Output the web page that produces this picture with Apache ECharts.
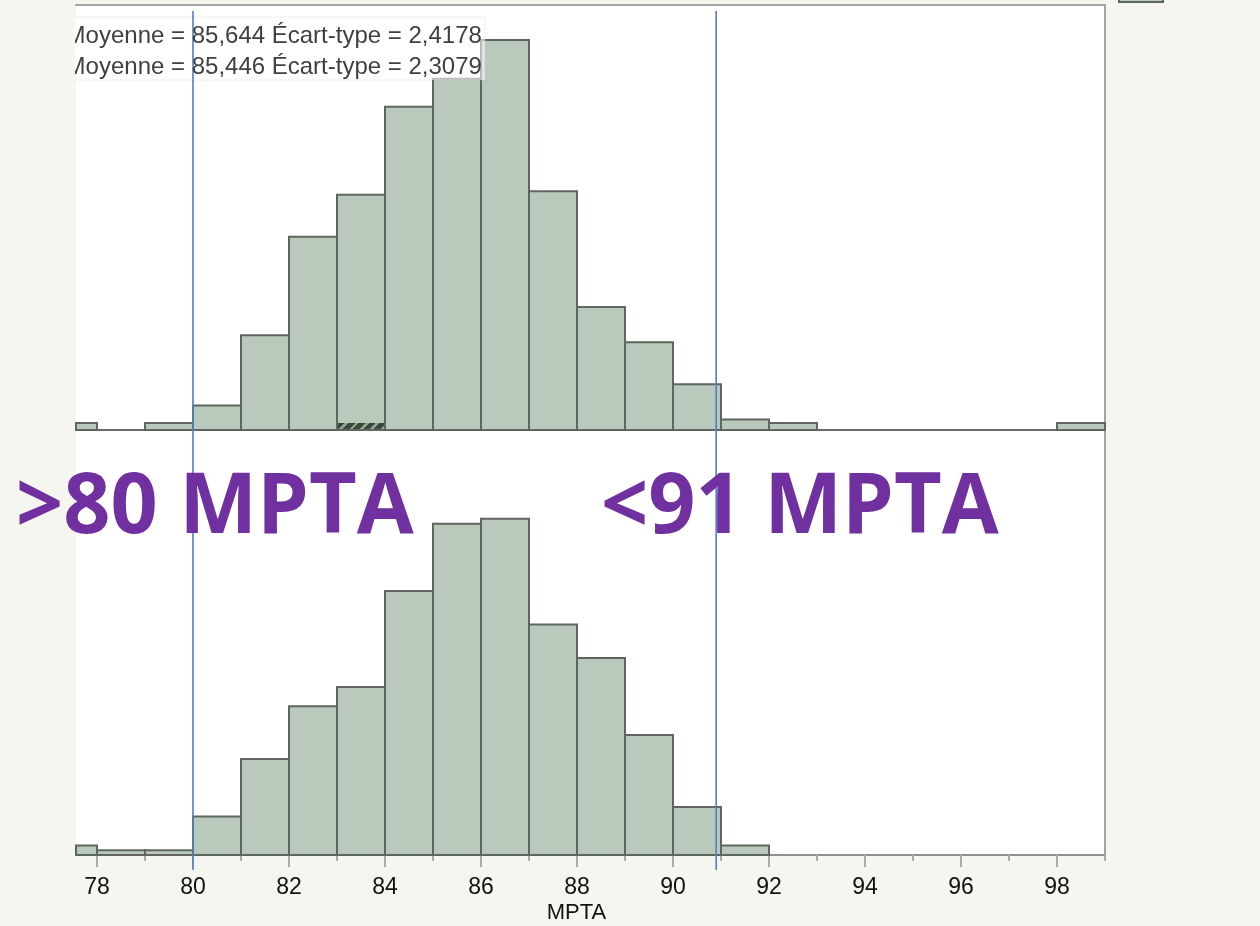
<!DOCTYPE html>
<html>
<head>
<meta charset="utf-8">
<script src="https://cdn.jsdelivr.net/npm/echarts@6/dist/echarts.min.js"></script>
<style>
  html, body { margin: 0; padding: 0; background: #f5f6f0; }
  #main { width: 1260px; height: 926px; }
</style>
</head>
<body>
<div id="main"></div>
<script>
// axis range (MPTA)
var X_MIN = 77.5625, X_MAX = 99;

// histogram bins (1 MPTA wide), lower bounds
var binStarts = [77, 78, 79, 80, 81, 82, 83, 84, 85, 86, 87, 88, 89, 90, 91, 92, 93, 94, 95, 96, 97, 98];
// upper panel counts
var countsTop = [2, 0, 2, 7, 27, 55, 67, 92, 100, 111, 68, 35, 25, 13, 3, 2, 0, 0, 0, 0, 0, 2];
// lower panel counts
var countsBottom = [2, 1, 1, 8, 20, 31, 35, 55, 69, 70, 48, 41, 25, 10, 2, 0, 0, 0, 0, 0, 0, 0];
// selected (hatched) part in the upper panel
var selTop = [[83, 2]];

// spec limits
var limits = [80, 90.9];
var limitLabels = ['>80 MPTA', '<91 MPTA'];

var majorTicks = [78, 80, 82, 84, 86, 88, 90, 92, 94, 96, 98];
var minorTicks = [79, 81, 83, 85, 87, 89, 91, 93, 95, 97, 99];

var statLines = [
  'Moyenne = 85,644 Écart-type = 2,4178',
  'Moyenne = 85,446 Écart-type = 2,3079'
];

var myChart = echarts.init(document.getElementById('main'));

function barItem(params, api) {
  var n = api.value(1);
  if (!n) return null;
  var x0 = Math.max(api.value(0), X_MIN);
  var x1 = Math.min(api.value(0) + 1, X_MAX);
  var p0 = api.coord([x0, n]);
  var p1 = api.coord([x1, 0]);
  return {
    type: 'rect',
    shape: { x: p0[0], y: p0[1], width: p1[0] - p0[0], height: p1[1] - p0[1] },
    style: { fill: '#b9c9bb', stroke: '#5f665e', lineWidth: 2 }
  };
}

function hatchItem(params, api) {
  var p0 = api.coord([api.value(0), api.value(1)]);
  var p1 = api.coord([api.value(0) + 1, 0]);
  var x = p0[0] + 1, y = p0[1], w = p1[0] - p0[0] - 2, h = p1[1] - p0[1] - 1;
  var L = (w + h) / 2, stops = [], k, n = 5;
  for (k = 0; k < n; k++) {
    stops.push({ offset: k / n, color: '#3a483b' });
    stops.push({ offset: (k + 0.65) / n, color: '#3a483b' });
    stops.push({ offset: (k + 0.65) / n, color: '#8fa290' });
    stops.push({ offset: (k + 1) / n, color: '#8fa290' });
  }
  return {
    type: 'rect',
    shape: { x: x, y: y, width: w, height: h },
    style: { fill: new echarts.graphic.LinearGradient(x, y, x + L, y + L, stops, true) }
  };
}

function limitItem(params, api) {
  var a = api.coord([api.value(0), 1]);
  var b = api.coord([api.value(0), 0]);
  return {
    type: 'line',
    shape: { x1: a[0], y1: a[1], x2: b[0], y2: b[1] },
    style: { stroke: '#4f7fc8', lineWidth: 1.6 }
  };
}

var borderAxis = { show: true, onZero: false, lineStyle: { color: '#a4a4a4', width: 2 } };
var font = 'Liberation Sans, Arial, sans-serif';
var bigFont = 'bold 85px "Open Sans", sans-serif';

var option = {
  backgroundColor: '#f5f6f0',
  animation: false,
  grid: [
    { left: 76, width: 1029, top: 5, height: 425, show: true, backgroundColor: '#fff', borderWidth: 0,
      containLabel: false, outerBoundsMode: 'none' },
    { left: 76, width: 1029, top: 430, height: 425, show: true, backgroundColor: '#fff', borderWidth: 0,
      containLabel: false, outerBoundsMode: 'none' },
    { left: 76, width: 1029, top: 11, height: 859, show: false,
      containLabel: false, outerBoundsMode: 'none' }
  ],
  xAxis: [
    { type: 'value', gridIndex: 0, min: X_MIN, max: X_MAX, position: 'bottom',
      axisLine: { show: true, onZero: false, lineStyle: { color: '#6b6b6b', width: 2 } },
      axisTick: { show: false }, axisLabel: { show: false }, splitLine: { show: false } },
    { type: 'value', gridIndex: 0, min: X_MIN, max: X_MAX, position: 'top',
      axisLine: borderAxis, axisTick: { show: false }, axisLabel: { show: false }, splitLine: { show: false } },
    { type: 'value', gridIndex: 1, min: X_MIN, max: X_MAX, position: 'bottom',
      axisLine: { show: true, onZero: false, lineStyle: { color: '#8f8f8f', width: 2 } },
      axisTick: { show: true, customValues: majorTicks, length: 12, lineStyle: { color: '#ababab', width: 2 } },
      axisLabel: { customValues: majorTicks, margin: 21, fontSize: 23, color: '#111', fontFamily: font },
      splitLine: { show: false },
      name: 'MPTA', nameLocation: 'middle', nameGap: 47,
      nameTextStyle: { fontSize: 22, color: '#111', fontFamily: font, padding: [0, 28, 0, 0] } },
    { type: 'value', gridIndex: 1, min: X_MIN, max: X_MAX, position: 'bottom',
      axisLine: { show: false },
      axisTick: { show: true, customValues: minorTicks, length: 6, lineStyle: { color: '#ababab', width: 2 } },
      axisLabel: { show: false }, splitLine: { show: false } },
    { type: 'value', gridIndex: 2, min: X_MIN, max: X_MAX, show: false }
  ],
  yAxis: [
    { type: 'value', gridIndex: 0, min: 0, max: 121, position: 'right',
      axisLine: borderAxis, axisTick: { show: false }, axisLabel: { show: false }, splitLine: { show: false } },
    { type: 'value', gridIndex: 1, min: 0, max: 88.5, position: 'right',
      axisLine: borderAxis, axisTick: { show: false }, axisLabel: { show: false }, splitLine: { show: false } },
    { type: 'value', gridIndex: 2, min: 0, max: 1, show: false }
  ],
  series: [
    { type: 'custom', name: 'haut', xAxisIndex: 0, yAxisIndex: 0, z: 2, silent: true,
      renderItem: barItem,
      data: binStarts.map(function (b, i) { return [b, countsTop[i]]; }) },
    { type: 'custom', name: 'sélection', xAxisIndex: 0, yAxisIndex: 0, z: 3, silent: true,
      renderItem: hatchItem, data: selTop },
    { type: 'custom', name: 'bas', xAxisIndex: 2, yAxisIndex: 1, z: 2, silent: true,
      renderItem: barItem,
      data: binStarts.map(function (b, i) { return [b, countsBottom[i]]; }) },
    { type: 'custom', name: 'limites', xAxisIndex: 4, yAxisIndex: 2, z: 5, silent: true,
      renderItem: limitItem,
      data: limits.map(function (v) { return [v]; }) }
  ],
  graphic: [
    { type: 'rect', z: 4, silent: true,
      shape: { x: 62, y: 17, width: 423, height: 63 },
      style: { fill: 'rgba(255,255,255,0.55)', stroke: 'rgba(200,200,200,0.35)', lineWidth: 1 } },
    { type: 'text', z: 6, silent: true,
      style: { text: statLines[0], x: 65.6, y: 36.5, font: '24px ' + font, fill: '#404040', textVerticalAlign: 'middle' } },
    { type: 'text', z: 6, silent: true,
      style: { text: statLines[1], x: 65.6, y: 67.5, font: '24px ' + font, fill: '#404040', textVerticalAlign: 'middle' } },
    { type: 'rect', z: 7, silent: true,
      shape: { x: 0, y: 0, width: 75, height: 100 },
      style: { fill: '#f5f6f0' } },
    { type: 'rect', z: 7, silent: true,
      shape: { x: 1119, y: -20, width: 44, height: 22 },
      style: { fill: '#b9c9bb', stroke: '#5f665e', lineWidth: 2 } },
    { type: 'text', z: 8, silent: true, x: 16, y: 509, scaleX: 0.972,
      style: { text: limitLabels[0], x: 0, y: 0, font: bigFont, fill: '#7030a0', textVerticalAlign: 'middle' } },
    { type: 'text', z: 8, silent: true, x: 601, y: 509, scaleX: 0.972,
      style: { text: limitLabels[1], x: 0, y: 0, font: bigFont, fill: '#7030a0', textVerticalAlign: 'middle' } }
  ]
};

myChart.setOption(option);
</script>
</body>
</html>
